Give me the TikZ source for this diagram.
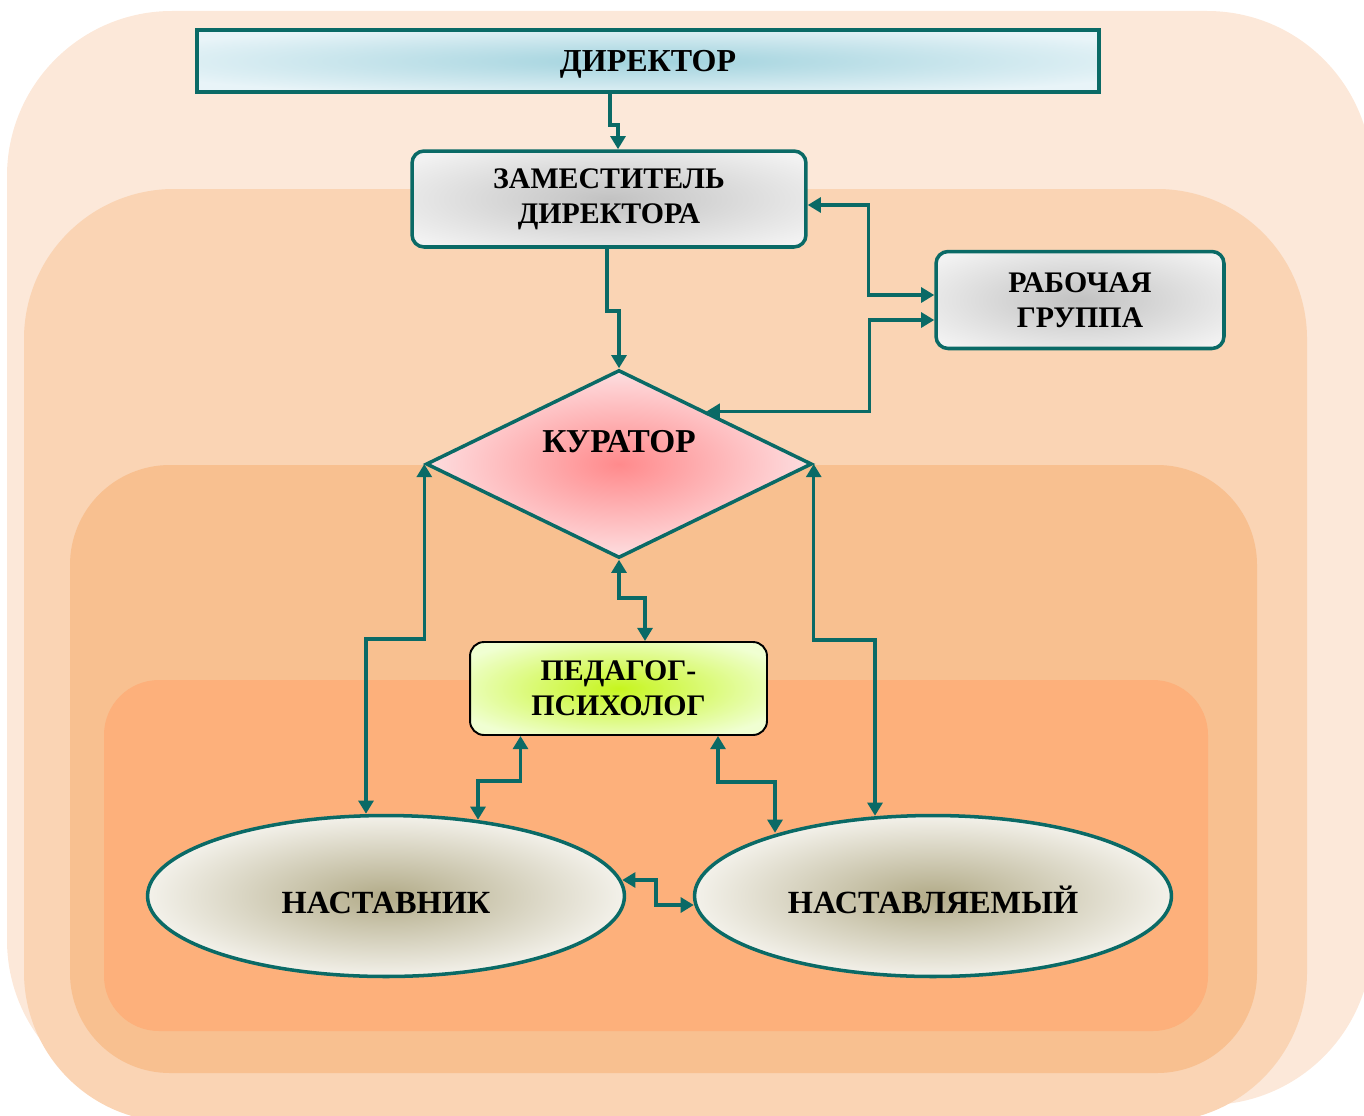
\documentclass[tikz,border=0pt]{standalone}
\usepackage{fontspec}
\setmainfont{Liberation Serif}
\usepackage{tikz}
\usetikzlibrary{arrows.meta,positioning,shapes,calc}
\definecolor{layerA}  {HTML}{FCE8D9}
\definecolor{layerB}  {HTML}{FAD4B4}
\definecolor{layerC}  {HTML}{F8C090}
\definecolor{layerD}  {HTML}{FDB07B}
\definecolor{tealline}{HTML}{0A6A66}
\definecolor{dirin}   {HTML}{A0D2DD}
\definecolor{dirout}  {HTML}{E8F4F8}
\definecolor{greyin}  {HTML}{C2C2C2}
\definecolor{greyout} {HTML}{F2F2F2}
\definecolor{curin}   {HTML}{FF8A8C}
\definecolor{curout}  {HTML}{FDE8EA}
\definecolor{psyin}   {HTML}{C6F51E}
\definecolor{psyout}  {HTML}{F0FFD2}
\definecolor{ellin}   {HTML}{B2AB88}
\definecolor{ellout}  {HTML}{F3F1EA}
\pgfdeclareradialshading{dirglow}{\pgfpointorigin}{color(0bp)=(dirin); color(30bp)=(dirout); color(50bp)=(dirout)}
\pgfdeclareradialshading{greyglow}{\pgfpointorigin}{color(0bp)=(greyin); color(32bp)=(greyout); color(50bp)=(greyout)}
\pgfdeclareradialshading{curglow}{\pgfpointorigin}{color(0bp)=(curin); color(28bp)=(curout); color(50bp)=(curout)}
\pgfdeclareradialshading{psyglow}{\pgfpointorigin}{color(0bp)=(psyin); color(30bp)=(psyout); color(50bp)=(psyout)}
\pgfdeclareradialshading{ellglow}{\pgfpointorigin}{color(0bp)=(ellin); color(25bp)=(ellout); color(50bp)=(ellout)}

\begin{document}
\begin{tikzpicture}[x=0.02cm,y=-0.02cm,
    txt/.style={font=\fontsize{17}{20}\selectfont\bfseries,align=center,inner sep=0pt},
    dirbox/.style={txt,font=\fontsize{18.2}{20}\selectfont\bfseries,draw=tealline,line width=2.3pt,
                   shading=dirglow,minimum width=18.04cm,minimum height=1.24cm,
                   text height=0.42cm,text depth=0cm},
    greybox/.style={txt,draw=tealline,line width=2pt,shading=greyglow,rounded corners=0.24cm},
    curbox/.style={txt,font=\fontsize{19}{20}\selectfont\bfseries,diamond,shape aspect=2.05,
                   draw=tealline,line width=2pt,shading=curglow,
                   minimum width=7.72cm,minimum height=3.76cm,text height=0.44cm,text depth=0.92cm},
    psybox/.style={txt,draw=black,line width=1.1pt,shading=psyglow,rounded corners=0.28cm,
                   minimum width=5.94cm,minimum height=1.86cm},
    ellbox/.style={txt,font=\fontsize{18.4}{20}\selectfont\bfseries,ellipse,draw=tealline,
                   line width=2pt,shading=ellglow,
                   minimum width=9.54cm,minimum height=3.22cm,text height=0.71cm,text depth=0cm},
    link/.style={draw=tealline,line width=2pt},
    oneway/.style={link,-{Triangle[length=7.5pt,width=8.5pt]}},
    twoway/.style={link,{Triangle[length=7.5pt,width=8.5pt]}-{Triangle[length=7.5pt,width=8.5pt]}}]

  \useasboundingbox (0,0) rectangle (1364,1115);

  % nested background layers
  \fill[layerA,rounded corners=3.3cm] (7,11) rectangle (1372,1105);
  \fill[layerB,rounded corners=3cm] (24,189) rectangle (1307,1122);
  \fill[layerC,rounded corners=2cm] (70,465) rectangle (1257,1073);
  \fill[layerD,rounded corners=1.1cm] (104,680) rectangle (1208,1031);

  % blocks
  \node[dirbox] (dir) at (648,61) {ДИРЕКТОР};
  \node[greybox,minimum width=7.88cm,minimum height=1.92cm] (zam) at (609,199) {ЗАМЕСТИТЕЛЬ\\ДИРЕКТОРА};
  \node[greybox,minimum width=5.76cm,minimum height=1.94cm] (grp) at (1080,300) {РАБОЧАЯ\\ГРУППА};
  \node[curbox] (cur) at (619,464) {КУРАТОР};
  \node[psybox] (psy) at (618.5,688.5) {ПЕДАГОГ-\\ПСИХОЛОГ};
  \node[ellbox] (mnt) at (386,896) {НАСТАВНИК};
  \node[ellbox] (stu) at (933,896) {НАСТАВЛЯЕМЫЙ};

  % links
  \draw[oneway] ($(dir.south)+(-38,0)$) -- ++(0,31) -| ($(zam.north)+(9,0)$);
  \draw[oneway] ($(zam.south)+(-2,0)$) -- ++(0,62) -| (cur.north);
  \draw[twoway] ($(zam.east)+(0,6)$) -| ($(grp.west)+(-66,-5)$) -- ($(grp.west)+(0,-5)$);
  \draw[twoway] ($(grp.west)+(0,20)$) -- ++(-65,0) |- ($(cur.north)!0.45!(cur.east)$);
  \draw[twoway] (cur.west) -- ++(0,175) -| ($(mnt.north)+(-20,0)$);
  \draw[twoway] (cur.east) -- ++(0,176) -| ($(stu.north)+(-58,2)$);
  \draw[twoway] (cur.south) -- ++(0,38) -| ($(psy.north)+(26.5,0)$);
  \draw[twoway] ($(psy.south)+(-98,0)$) -- ++(0,45) -| ($(mnt.north)+(92,6)$);
  \draw[twoway] ($(psy.south)+(99.5,0)$) -- ++(0,46) -| ($(stu.north)+(-158,19)$);
  \draw[twoway] ($(mnt.east)+(-4,-16)$) -- ++(34,0) |- ($(stu.west)+(1,9)$);
\end{tikzpicture}
\end{document}
